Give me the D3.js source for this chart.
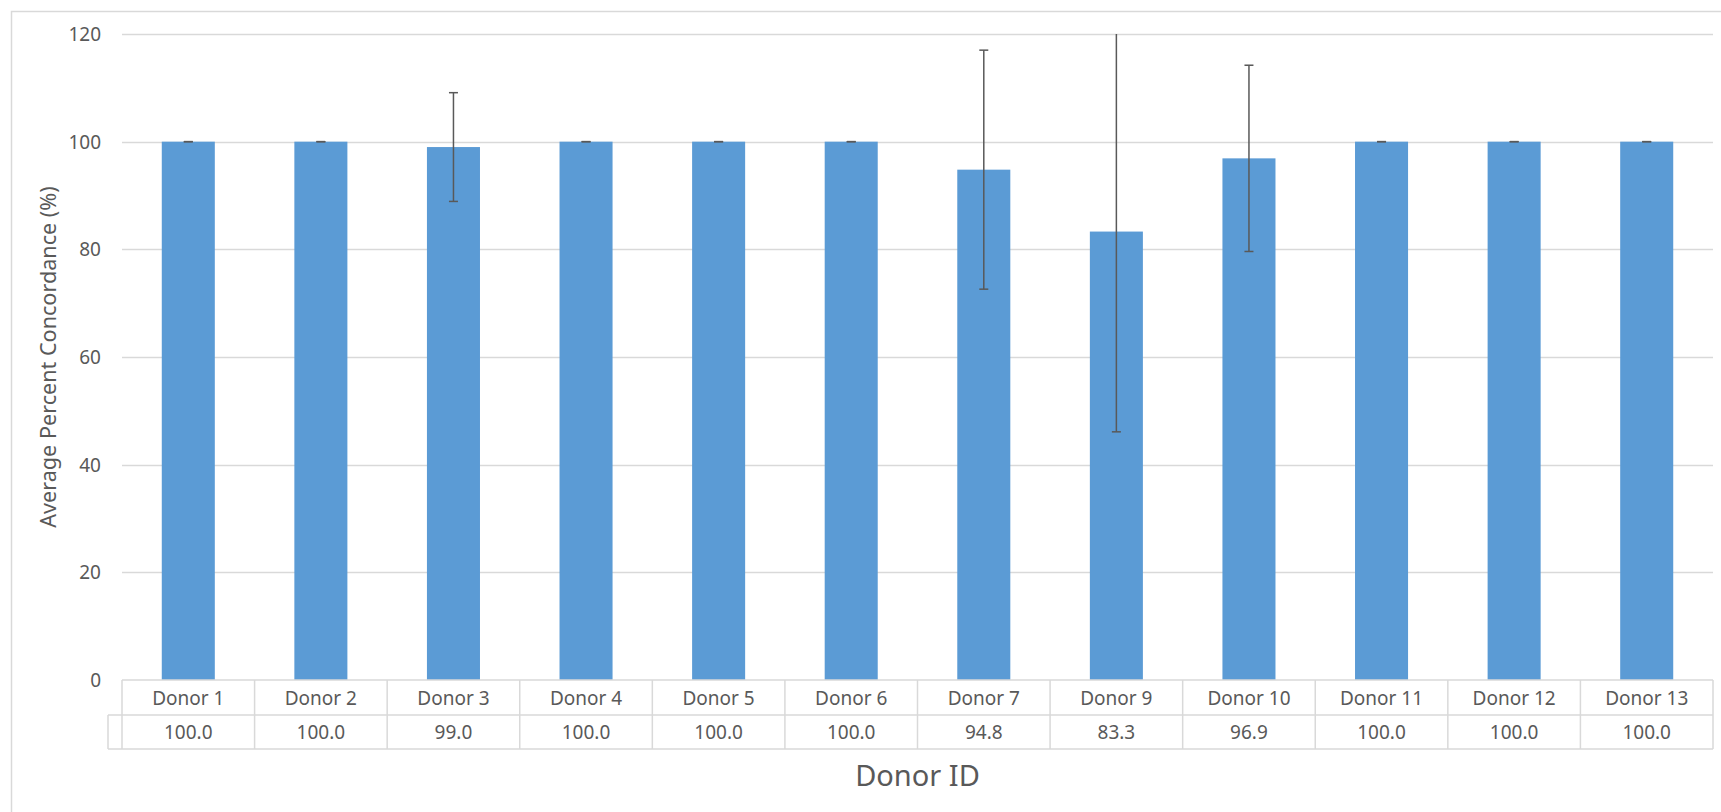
<!DOCTYPE html>
<html>
<head>
<meta charset="utf-8">
<script src="https://cdn.jsdelivr.net/npm/d3@7"></script>
<style>
  html, body { margin: 0; padding: 0; background: #fff; }
  svg { display: block; }
  text { font-family: "Noto Sans", "Open Sans", sans-serif; fill: #595959; }
</style>
</head>
<body>
<svg id="chart" width="1721" height="812"></svg>
<script>
const categories = ["Donor 1", "Donor 2", "Donor 3", "Donor 4", "Donor 5", "Donor 6", "Donor 7", "Donor 9", "Donor 10", "Donor 11", "Donor 12", "Donor 13"];
const values = [100.0, 100.0, 99.0, 100.0, 100.0, 100.0, 94.8, 83.3, 96.9, 100.0, 100.0, 100.0];
const errors = [0, 0, 10.1, 0, 0, 0, 22.2, 37.2, 17.3, 0, 0, 0];
const yTicks = [0, 20, 40, 60, 80, 100, 120];
const yTitle = "Average Percent Concordance (%)";
const xTitle = "Donor ID";

const W = 1721, H = 812;
const plot = { left: 122, right: 1713, top: 34, bottom: 680 };
const svg = d3.select("#chart");

// chart area border
svg.append("rect")
  .attr("x", 11.5).attr("y", 11.5)
  .attr("width", W).attr("height", H)
  .attr("fill", "none").attr("stroke", "#D9D9D9").attr("stroke-width", 1.5);

const x = d3.scaleBand().domain(categories).range([plot.left, plot.right])
  .paddingInner(0.6).paddingOuter(0.3);
const y = d3.scaleLinear().domain([0, 120]).range([plot.bottom, plot.top]);

// gridlines
svg.append("g").selectAll("line").data(yTicks.filter(t => t > 0)).join("line")
  .attr("x1", plot.left).attr("x2", plot.right)
  .attr("y1", d => Math.round(y(d)) + 0.5).attr("y2", d => Math.round(y(d)) + 0.5)
  .attr("stroke", "#D9D9D9").attr("stroke-width", 1.5);

// y tick labels
svg.append("g").selectAll("text").data(yTicks).join("text")
  .attr("x", 101).attr("y", d => y(d))
  .attr("text-anchor", "end").attr("dominant-baseline", "central")
  .attr("font-size", 19)
  .text(d => d);

// y title
svg.append("text")
  .attr("transform", `translate(47,${(plot.top + plot.bottom) / 2}) rotate(-90)`)
  .attr("text-anchor", "middle").attr("dominant-baseline", "central")
  .attr("font-size", 21.6)
  .text(yTitle);

// bars
const data = categories.map((c, i) => ({ c, v: values[i], e: errors[i] }));
svg.append("g").selectAll("rect").data(data).join("rect")
  .attr("x", d => x(d.c)).attr("width", x.bandwidth())
  .attr("y", d => y(d.v)).attr("height", d => y(0) - y(d.v))
  .attr("fill", "#5B9BD5");

// error bars (clipped to plot area)
svg.append("clipPath").attr("id", "clip").append("rect")
  .attr("x", plot.left).attr("y", plot.top)
  .attr("width", plot.right - plot.left).attr("height", plot.bottom - plot.top);
const eg = svg.append("g").attr("clip-path", "url(#clip)")
  .attr("stroke", "#595959").attr("stroke-width", 1.5);
const cap = 4.5;
data.forEach(d => {
  const cx = x(d.c) + x.bandwidth() / 2;
  const hi = d.v + d.e, lo = d.v - d.e;
  eg.append("line").attr("x1", cx).attr("x2", cx).attr("y1", y(hi)).attr("y2", y(lo));
  if (hi <= 120) eg.append("line").attr("x1", cx - cap).attr("x2", cx + cap).attr("y1", y(hi)).attr("y2", y(hi));
  eg.append("line").attr("x1", cx - cap).attr("x2", cx + cap).attr("y1", y(lo)).attr("y2", y(lo));
});

// data table
const step = x.step();
const cellL = c => x(c) - step * x.paddingInner() / 2;
const row1Top = plot.bottom, row1Bot = 715, row2Bot = 749;
const tg = svg.append("g").attr("stroke", "#D9D9D9").attr("stroke-width", 1.5).attr("fill", "none");
tg.append("line").attr("x1", plot.left).attr("x2", plot.right).attr("y1", row1Top).attr("y2", row1Top);
tg.append("line").attr("x1", 108).attr("x2", plot.right).attr("y1", row1Bot).attr("y2", row1Bot);
tg.append("line").attr("x1", 108).attr("x2", plot.right).attr("y1", row2Bot).attr("y2", row2Bot);
tg.append("line").attr("x1", 108).attr("x2", 108).attr("y1", row1Bot).attr("y2", row2Bot);
categories.forEach(c => {
  tg.append("line").attr("x1", cellL(c)).attr("x2", cellL(c)).attr("y1", row1Top).attr("y2", row2Bot);
});
tg.append("line").attr("x1", plot.right).attr("x2", plot.right).attr("y1", row1Top).attr("y2", row2Bot);

svg.append("g").selectAll("text").data(categories).join("text")
  .attr("x", c => x(c) + x.bandwidth() / 2).attr("y", (row1Top + row1Bot) / 2)
  .attr("text-anchor", "middle").attr("dominant-baseline", "central")
  .attr("font-size", 19)
  .text(c => c);
svg.append("g").selectAll("text").data(data).join("text")
  .attr("x", d => x(d.c) + x.bandwidth() / 2).attr("y", (row1Bot + row2Bot) / 2)
  .attr("text-anchor", "middle").attr("dominant-baseline", "central")
  .attr("font-size", 19)
  .text(d => d.v.toFixed(1));

// x title
svg.append("text")
  .attr("x", (plot.left + plot.right) / 2).attr("y", 774)
  .attr("text-anchor", "middle").attr("dominant-baseline", "central")
  .attr("font-size", 29)
  .text(xTitle);
</script>
</body>
</html>
